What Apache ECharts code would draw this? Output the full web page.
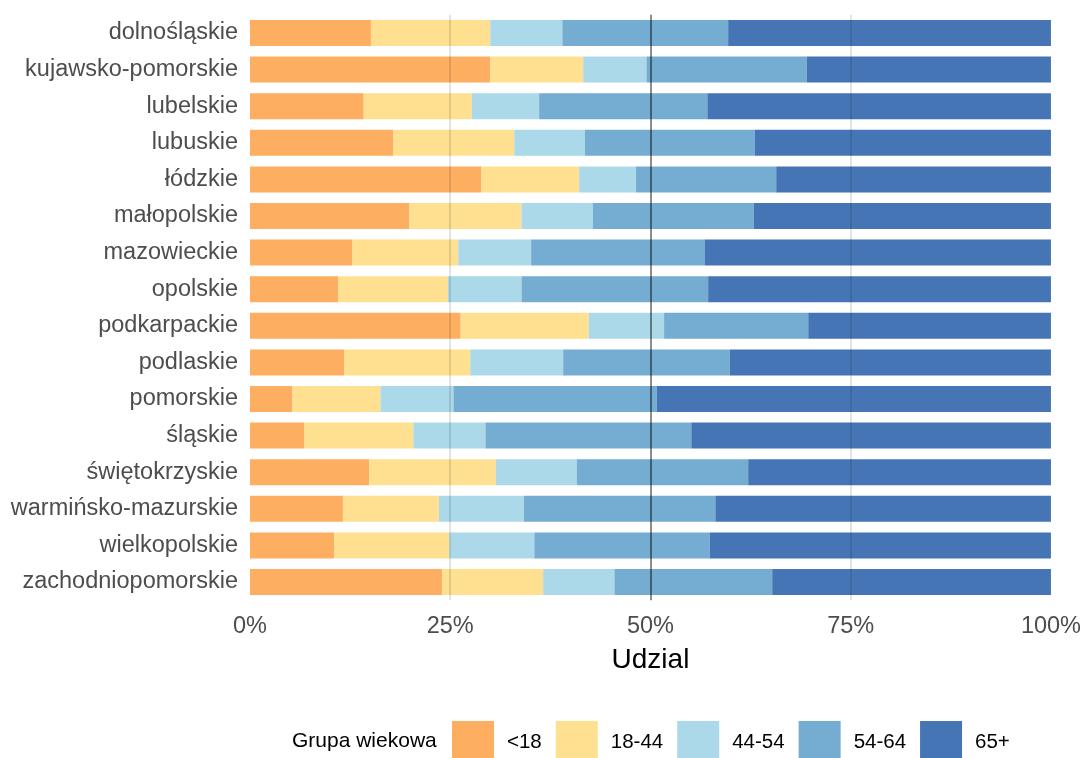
<!DOCTYPE html>
<html>
<head>
<meta charset="utf-8">
<script src="https://cdn.jsdelivr.net/npm/echarts@6/dist/echarts.min.js"></script>
<style>
  html, body { margin: 0; padding: 0; background: #fff; }
  #chart { width: 1084px; height: 758px; }
</style>
</head>
<body>
<div id="chart"></div>
<script>
var regions = ['dolnośląskie', 'kujawsko-pomorskie', 'lubelskie', 'lubuskie', 'łódzkie',
	'małopolskie', 'mazowieckie', 'opolskie', 'podkarpackie', 'podlaskie', 'pomorskie',
	'śląskie', 'świętokrzyskie', 'warmińsko-mazurskie', 'wielkopolskie', 'zachodniopomorskie'];

var groups = ['<18', '18-44', '44-54', '54-64', '65+'];

// share of each age group, % per region
var under18 = [15.1, 30.0, 14.2, 17.9, 28.9, 19.9, 12.8, 11.0, 26.3, 11.8, 5.3, 6.8, 14.9, 11.6, 10.5, 24.0];
var age18_44 = [14.9, 11.6, 13.5, 15.1, 12.2, 14.0, 13.2, 13.7, 16.0, 15.7, 11.0, 13.6, 15.8, 12.0, 14.4, 12.6];
var age44_54 = [9.0, 7.9, 8.4, 8.8, 7.1, 8.9, 9.1, 9.2, 9.4, 11.6, 9.1, 9.0, 10.1, 10.6, 10.6, 8.9];
var age54_64 = [20.7, 20.0, 21.0, 21.2, 17.5, 20.1, 21.7, 23.3, 18.0, 20.8, 25.4, 25.7, 21.4, 23.9, 21.9, 19.7];
var age65plus = [40.3, 30.5, 42.9, 37.0, 34.3, 37.1, 43.2, 42.8, 30.3, 40.1, 49.2, 44.9, 37.8, 41.9, 42.6, 34.8];

var xTicks = [0, 25, 50, 75, 100];
var refLines = [25, 50, 75];

var colors = ['#fdae61', '#fee090', '#abd9e9', '#74add1', '#4575b4'];
var values = [under18, age18_44, age44_54, age54_64, age65plus];

var series = groups.map(function(name, i) {
	return {
		name: name,
		type: 'bar',
		stack: 'all',
		barWidth: 26,
		itemStyle: { color: colors[i] },
		data: values[i]
	};
});

// reference lines drawn over the bars
series.push({
	type: 'line',
	data: [],
	z: 10,
	silent: true,
	markLine: {
		silent: true,
		symbol: 'none',
		label: { show: false },
		data: refLines.map(function(v) {
			return {
				xAxis: v,
				lineStyle: {
					type: 'solid',
					width: 1.5,
					color: v === 50 ? 'rgba(0,0,0,0.6)' : 'rgba(0,0,0,0.15)'
				}
			};
		})
	}
});

var chart = echarts.init(document.getElementById('chart'));
chart.setOption({
	animation: false,
	grid: { left: 250, right: 30, top: 14.7, bottom: 157.7 },
	xAxis: {
		type: 'value',
		min: xTicks[0],
		max: xTicks[xTicks.length - 1],
		interval: 25,
		name: 'Udzial',
		nameLocation: 'middle',
		nameGap: 46,
		nameTextStyle: { color: '#000', fontSize: 28, fontFamily: 'Liberation Sans' },
		axisLine: { show: false },
		axisTick: { show: false },
		splitLine: { show: false },
		axisLabel: {
			margin: 14.5,
			color: '#4d4d4d',
			fontSize: 23.5,
			fontFamily: 'Liberation Sans',
			formatter: '{value}%'
		}
	},
	yAxis: {
		type: 'category',
		inverse: true,
		data: regions,
		axisLine: { show: false },
		axisTick: { show: false },
		splitLine: { show: false },
		axisLabel: {
			margin: 12,
			color: '#4d4d4d',
			fontSize: 23.5,
			fontFamily: 'Liberation Sans'
		}
	},
	legend: {
		data: groups,
		left: 452,
		top: 721,
		padding: 0,
		itemWidth: 42,
		itemHeight: 42,
		itemGap: 14,
		icon: 'rect',
		textStyle: {
			color: '#000',
			fontSize: 20.5,
			fontFamily: 'Liberation Sans',
			padding: [0, 0, 0, 8]
		}
	},
	graphic: [{
		type: 'text',
		left: 292,
		top: 731,
		style: {
			text: 'Grupa wiekowa',
			fill: '#000',
			fontSize: 21,
			fontFamily: 'Liberation Sans'
		}
	}],
	series: series
});
</script>
</body>
</html>
